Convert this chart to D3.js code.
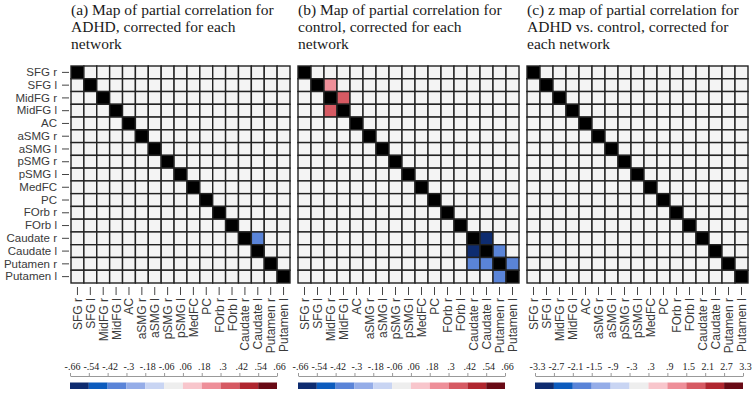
<!DOCTYPE html>
<html lang="en">
<head>
  <meta charset="UTF-8">
  <title>partial-correlation-maps</title>
  <script src="https://cdn.jsdelivr.net/npm/d3@7"></script>
  <style>
    body { margin: 0; background: #fff; }
    .title { font-family: "Liberation Serif", "DejaVu Serif", serif; font-size: 15.5px; fill: #1a1a1a; }
    .axis text { font-family: "Liberation Sans", Arial, sans-serif; fill: #3a3a3a; }
    .axis line, .axis path { stroke: #444; }
    .cbar text { font-family: "Liberation Serif", serif; font-size: 10px; fill: #222; }
    .cbar line, .cbar path { stroke: #999; }
  </style>
</head>
<body>
<script>
let width = 752;
let height = 397;

let regions = ['SFG r', 'SFG l', 'MidFG r', 'MidFG l', 'AC', 'aSMG r', 'aSMG l',
  'pSMG r', 'pSMG l', 'MedFC', 'PC', 'FOrb r', 'FOrb l',
  'Caudate r', 'Caudate l', 'Putamen r', 'Putamen l'];

// off-diagonal cells that are not near zero: [row, column, value]
let cellsA = [['Caudate r', 'Caudate l', -0.35]];
let cellsB = [
  ['SFG l', 'MidFG r', 0.24],
  ['MidFG r', 'MidFG l', 0.36],
  ['MidFG l', 'MidFG r', 0.36],
  ['Caudate r', 'Caudate l', -0.6],
  ['Caudate l', 'Caudate r', -0.6],
  ['Caudate l', 'Putamen r', -0.36],
  ['Putamen r', 'Caudate r', -0.36],
  ['Putamen r', 'Caudate l', -0.36],
  ['Putamen r', 'Putamen l', -0.36],
  ['Putamen l', 'Putamen r', -0.36]
];
let cellsC = [];

let titles = [
  ['(a) Map of partial correlation for', 'ADHD, corrected for each', 'network'],
  ['(b) Map of partial correlation for', 'control, corrected for each', 'network'],
  ['(c) z map of partial correlation for', 'ADHD vs. control, corrected for', 'each network']
];

let corrBreaks = ['-.66', '-.54', '-.42', '-.3', '-.18', '-.06', '.06', '.18', '.3', '.42', '.54', '.66'];
let zBreaks = ['-3.3', '-2.7', '-2.1', '-1.5', '-.9', '-.3', '.3', '.9', '1.5', '2.1', '2.7', '3.3'];

let palette = ['#0e2c70', '#0c5bbd', '#5a84d8', '#95ade8', '#c9d5f3', '#f4f4f4',
  '#f8c6cc', '#ee8f99', '#d65a63', '#b0262f', '#690a15'];

let panels = [
  {cells: cellsA, breaks: corrBreaks, x0: 71, x1: 290, cb0: 70, cb1: 277, yLabels: true},
  {cells: cellsB, breaks: corrBreaks, x0: 298, x1: 519, cb0: 298, cb1: 505, yLabels: false},
  {cells: cellsC, breaks: zBreaks, x0: 527, x1: 748, cb0: 535, cb1: 743, yLabels: false}
];

let gridTop = 66;
let gridBottom = 283;

let svg = d3.select('body')
  .append('svg')
  .attr('width', width)
  .attr('height', height);

function buildMatrix(cells) {
  let m = [];
  regions.forEach(function (r, i) {
    regions.forEach(function (c, j) {
      m.push({row: r, col: c, value: i === j ? null : 0, diag: i === j});
    });
  });
  cells.forEach(function (d) {
    let k = regions.indexOf(d[0]) * regions.length + regions.indexOf(d[1]);
    m[k].value = d[2];
  });
  return m;
}

function renderPanel(p, idx) {
  let g = svg.append('g').attr('class', 'panel');

  let t = g.append('text')
    .attr('class', 'title')
    .attr('x', p.x0)
    .attr('y', 15);
  titles[idx].forEach(function (line, i) {
    t.append('tspan').attr('x', p.x0).attr('dy', i === 0 ? 0 : 17).text(line);
  });

  let x = d3.scaleBand().domain(regions).range([p.x0, p.x1]);
  let y = d3.scaleBand().domain(regions).range([gridTop, gridBottom]);

  let nums = p.breaks.map(Number);
  let color = d3.scaleThreshold()
    .domain(nums.slice(1, -1))
    .range(palette);

  g.selectAll('rect.cell')
    .data(buildMatrix(p.cells))
    .enter()
    .append('rect')
    .attr('class', 'cell')
    .attr('x', function (d) { return x(d.col); })
    .attr('y', function (d) { return y(d.row); })
    .attr('width', x.bandwidth())
    .attr('height', y.bandwidth())
    .attr('fill', function (d) { return d.diag ? '#000' : color(d.value); })
    .attr('stroke', '#222')
    .attr('stroke-width', 1.4);

  let xAxis = d3.axisBottom(x).tickSize(8).tickSizeOuter(0).tickFormat('');
  g.append('g')
    .attr('class', 'axis')
    .attr('transform', 'translate(0,' + (gridBottom + 4) + ')')
    .call(xAxis)
    .call(function (a) { a.select('.domain').remove(); });

  g.selectAll('text.xlab')
    .data(regions)
    .enter()
    .append('text')
    .attr('class', 'xlab')
    .attr('transform', function (d) {
      return 'translate(' + (x(d) + x.bandwidth() / 2 + 4.5) + ',298) rotate(-90)';
    })
    .attr('text-anchor', 'end')
    .style('font-family', '"Liberation Sans", Arial, sans-serif')
    .style('font-size', '12px')
    .style('fill', '#3a3a3a')
    .text(function (d) { return d; });

  if (p.yLabels) {
    let yAxis = d3.axisLeft(y).tickSize(7).tickSizeOuter(0).tickPadding(5);
    g.append('g')
      .attr('class', 'axis')
      .attr('transform', 'translate(' + (p.x0 - 2) + ',0)')
      .call(yAxis)
      .call(function (a) {
        a.select('.domain').remove();
        a.selectAll('text').style('font-size', '11.5px');
      });
  }

  // colour bar
  let cb = d3.scaleLinear().domain([0, p.breaks.length - 1]).range([p.cb0, p.cb1]);
  let cg = g.append('g').attr('class', 'cbar');
  cg.selectAll('rect')
    .data(palette)
    .enter()
    .append('rect')
    .attr('x', function (d, i) { return cb(i); })
    .attr('y', 382.5)
    .attr('width', cb(1) - cb(0))
    .attr('height', 6.5)
    .attr('fill', function (d, i) { return i === 5 ? '#eeeeee' : d; });

  let cbAxis = d3.axisTop(cb)
    .tickValues(d3.range(p.breaks.length))
    .tickSize(3)
    .tickSizeOuter(0)
    .tickPadding(3)
    .tickFormat(function (i) { return p.breaks[i]; });
  cg.append('g')
    .attr('transform', 'translate(0,376)')
    .call(cbAxis)
    .call(function (a) { a.selectAll('text').attr('dx', '2'); });
}

panels.forEach(renderPanel);
</script>
</body>
</html>
